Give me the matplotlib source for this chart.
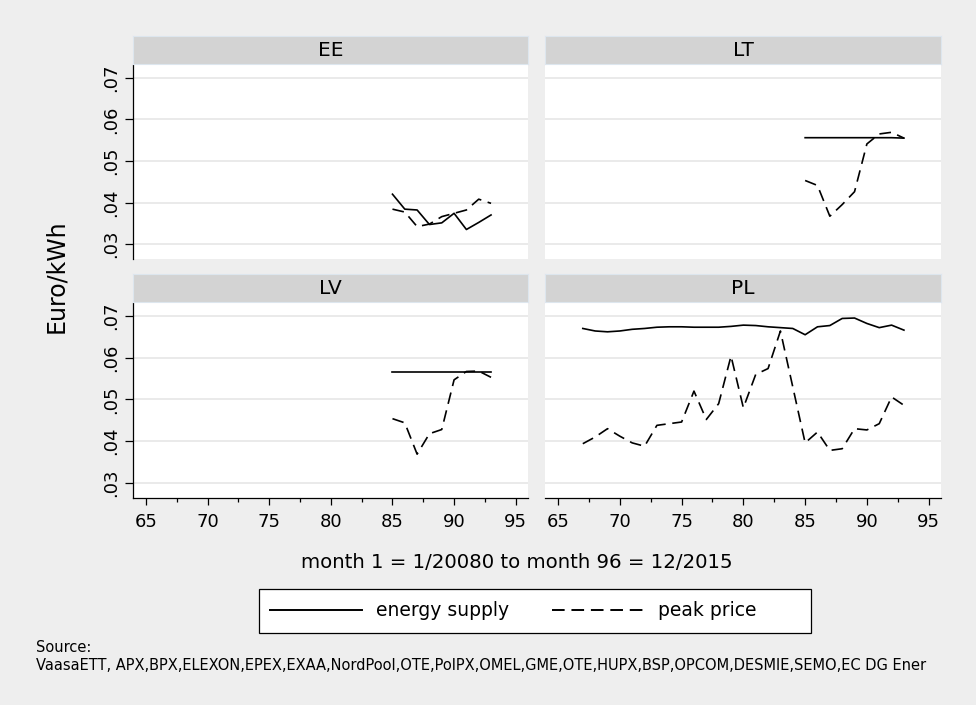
import numpy as np
import matplotlib.pyplot as plt
from matplotlib.lines import Line2D
from matplotlib.patches import Rectangle

# data (month index, Euro/kWh)
ee_months = [85, 86, 87, 88, 89, 90, 91, 92, 93]
ee_supply = [0.0420, 0.0384, 0.0382, 0.0347, 0.0351, 0.0374, 0.0335, 0.0352, 0.0370]
ee_peak = [0.0384, 0.0377, 0.0342, 0.0348, 0.0366, 0.0374, 0.0382, 0.0408, 0.0398]

lt_months = [85, 86, 87, 88, 89, 90, 91, 92, 93]
lt_supply = [0.0556, 0.0556, 0.0556, 0.0556, 0.0556, 0.0556, 0.0556, 0.0556, 0.0555]
lt_peak = [0.0453, 0.0441, 0.0367, 0.0395, 0.0426, 0.0541, 0.0565, 0.0569, 0.0555]

lv_months = [85, 86, 87, 88, 89, 90, 91, 92, 93]
lv_supply = [0.0565, 0.0565, 0.0565, 0.0565, 0.0565, 0.0565, 0.0565, 0.0565, 0.0565]
lv_peak = [0.0454, 0.0444, 0.0369, 0.0418, 0.0428, 0.0547, 0.0567, 0.0568, 0.0553]

pl_months = list(range(67, 94))
pl_supply = [0.0670, 0.0664, 0.0662, 0.0664, 0.0668, 0.0670, 0.0673, 0.0674, 0.0674,
             0.0673, 0.0673, 0.0673, 0.0675, 0.0678, 0.0677, 0.0674, 0.0672, 0.0670,
             0.0655, 0.0674, 0.0677, 0.0694, 0.0695, 0.0682, 0.0672, 0.0678, 0.0666]
pl_peak = [0.0394, 0.0410, 0.0430, 0.0412, 0.0396, 0.0388, 0.0438, 0.0442, 0.0446,
           0.0520, 0.0452, 0.0490, 0.0604, 0.0480, 0.0560, 0.0574, 0.0664, 0.0530,
           0.0396, 0.0422, 0.0378, 0.0382, 0.0430, 0.0427, 0.0442, 0.0506, 0.0486]

yticks = [0.03, 0.04, 0.05, 0.06, 0.07]
ylabels = ['.03', '.04', '.05', '.06', '.07']
xticks = [65, 70, 75, 80, 85, 90, 95]

W, H = 976, 705
fig = plt.figure(figsize=(W / 100, H / 100), dpi=100)
fig.patch.set_facecolor('#eeeeee')


def rect(x0, y0, x1, y1):
    return [x0 / W, 1 - y1 / H, (x1 - x0) / W, (y1 - y0) / H]


panels = [
    ('EE', ee_months, ee_supply, ee_peak, (133, 65, 528, 259), True, False),
    ('LT', lt_months, lt_supply, lt_peak, (545, 65, 941, 259), False, False),
    ('LV', lv_months, lv_supply, lv_peak, (133, 303, 528, 498), True, True),
    ('PL', pl_months, pl_supply, pl_peak, (545, 303, 941, 498), False, True),
]

for name, m, sup, peak, box, left, bottom in panels:
    x0, y0, x1, y1 = box
    ax = fig.add_axes(rect(x0, y0, x1, y1))
    ax.set_facecolor('white')
    ax.plot(m, sup, color='black', lw=1.2)
    ax.plot(m, peak, color='black', lw=1.2, dashes=(7, 4))
    ax.set_xlim(63.94, 96.0)
    ax.set_ylim(0.0264, 0.0731)
    ax.set_yticks(yticks)
    for y in yticks:
        ax.axhline(y, color='#e8e8e8', lw=1.3, zorder=0)
    for s in ax.spines.values():
        s.set_visible(False)
    if left:
        ax.spines['left'].set_visible(True)
        ax.spines['left'].set_linewidth(0.9)
        ax.set_yticklabels(ylabels, rotation=90, va='center', fontsize=13)
        ax.tick_params(axis='y', length=6, width=0.9, pad=3)
    else:
        ax.tick_params(axis='y', left=False, labelleft=False)
    if bottom:
        ax.spines['bottom'].set_visible(True)
        ax.spines['bottom'].set_linewidth(0.9)
        ax.set_xticks(xticks)
        ax.set_xticks(np.arange(67.5, 95, 5), minor=True)
        ax.tick_params(axis='x', which='major', length=5, width=0.9, pad=6, labelsize=13)
        ax.tick_params(axis='x', which='minor', length=3, width=0.9)
    else:
        ax.tick_params(axis='x', bottom=False, labelbottom=False)
    # strip header
    sx = fig.add_axes(rect(x0, y0 - 29, x1, y0 - 1))
    sx.set_facecolor('#d3d3d3')
    sx.set_xticks([])
    sx.set_yticks([])
    for s in sx.spines.values():
        s.set_color('#dde6ee')
        s.set_linewidth(0.8)
    sx.text(0.5, 0.47, name, ha='center', va='center', fontsize=14.5, transform=sx.transAxes)

fig.text(56 / W, 1 - 276 / H, 'Euro/kWh', rotation=90, ha='center', va='center', fontsize=17)
fig.text(517 / W, 1 - 562 / H, 'month 1 = 1/20080 to month 96 = 12/2015',
         ha='center', va='center', fontsize=14.2)

# legend frame drawn as its own box, legend entries placed inside it
fig.add_artist(Rectangle((259 / W, 1 - 633 / H), 552 / W, 44 / H, transform=fig.transFigure,
                         facecolor='white', edgecolor='black', lw=0.9))
handles = [Line2D([], [], color='black', lw=1.4),
           Line2D([], [], color='black', lw=1.4, dashes=(6.5, 3.5))]
leg = fig.legend(handles, ['energy supply', 'peak price'], ncol=2,
                 loc='center left', bbox_to_anchor=(270 / W, 1 - 611 / H),
                 frameon=False, fontsize=13.5,
                 handlelength=4.9, columnspacing=2.3, handletextpad=0.75,
                 borderpad=0, borderaxespad=0)

fig.text(36 / W, 1 - 648 / H, 'Source:', ha='left', va='center', fontsize=10.5)
fig.text(36 / W, 1 - 666 / H,
         'VaasaETT, APX,BPX,ELEXON,EPEX,EXAA,NordPool,OTE,PolPX,OMEL,GME,OTE,HUPX,BSP,OPCOM,DESMIE,SEMO,EC DG Ener',
         ha='left', va='center', fontsize=10.5)

fig.savefig('out.png', dpi=100, facecolor=fig.get_facecolor())
